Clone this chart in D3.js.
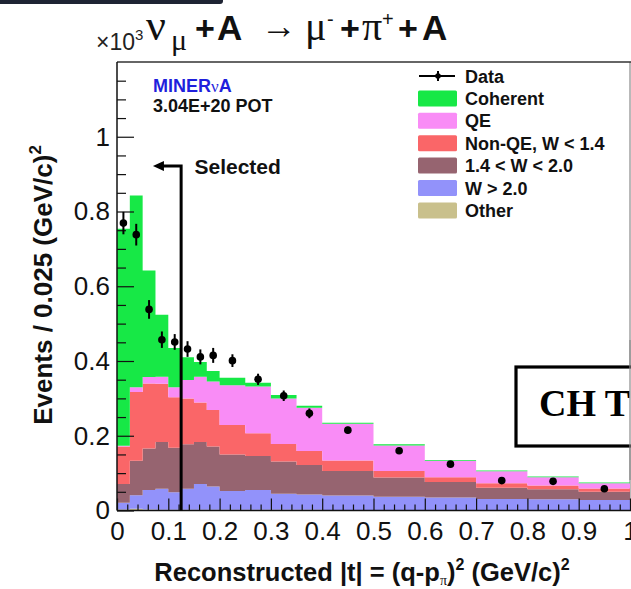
<!DOCTYPE html>
<html>
<head>
<meta charset="utf-8">
<script src="https://cdn.jsdelivr.net/npm/d3@7"></script>
<style>
  body { margin: 0; background: #fff; }
  svg { display: block; }
</style>
</head>
<body>
<div id="chart"></div>
<script>
// Reconstructed |t| bins (GeV/c)^2, variable width
const binEdges = [0, 0.025, 0.05, 0.075, 0.1, 0.125, 0.15, 0.175, 0.2, 0.25, 0.3, 0.35, 0.4, 0.5, 0.6, 0.7, 0.8, 0.9, 1.0];

// MC components, events / 0.025 (GeV/c)^2 in units of 10^3, bottom -> top of the stack
const other    = [0.003, 0.005, 0.003, 0.002, 0.002, 0.002, 0.002, 0.002, 0.002, 0.002, 0.002, 0.002, 0.001, 0.001, 0.001, 0.001, 0.001, 0.001];
const wAbove20 = [0.018, 0.036, 0.052, 0.056, 0.047, 0.056, 0.069, 0.062, 0.050, 0.053, 0.043, 0.041, 0.039, 0.036, 0.034, 0.030, 0.029, 0.027];
const w14to20  = [0.050, 0.092, 0.111, 0.125, 0.119, 0.119, 0.112, 0.107, 0.098, 0.091, 0.086, 0.079, 0.066, 0.051, 0.041, 0.030, 0.027, 0.022];
const nonQE    = [0.100, 0.184, 0.174, 0.156, 0.135, 0.123, 0.106, 0.098, 0.079, 0.061, 0.047, 0.037, 0.028, 0.018, 0.013, 0.012, 0.010, 0.009];
const qe       = [0.002, 0.013, 0.017, 0.019, 0.027, 0.049, 0.069, 0.076, 0.106, 0.125, 0.122, 0.116, 0.098, 0.068, 0.044, 0.032, 0.022, 0.014];
const coherent = [0.581, 0.513, 0.285, 0.166, 0.105, 0.061, 0.039, 0.028, 0.020, 0.010, 0.009, 0.005, 0.003, 0.003, 0.002, 0.002, 0.002, 0.002];

// Data points and statistical errors (10^3)
const dataCounts = [0.769, 0.738, 0.538, 0.457, 0.451, 0.432, 0.411, 0.415, 0.401, 0.351, 0.307, 0.260, 0.215, 0.160, 0.124, 0.080, 0.078, 0.058];
const dataErrors = [0.030, 0.029, 0.025, 0.022, 0.021, 0.021, 0.020, 0.020, 0.017, 0.015, 0.014, 0.013, 0.009, 0.007, 0.006, 0.005, 0.005, 0.004];

// Axes
const xTickValues = [0, 0.1, 0.2, 0.3, 0.4, 0.5, 0.6, 0.7, 0.8, 0.9, 1];
const xTickLabels = ["0", "0.1", "0.2", "0.3", "0.4", "0.5", "0.6", "0.7", "0.8", "0.9", "1"];
const yTickValues = [0, 0.2, 0.4, 0.6, 0.8, 1];
const yTickLabels = ["0", "0.2", "0.4", "0.6", "0.8", "1"];

// Legend
const componentKeys = ["other", "wAbove20", "w14to20", "nonQE", "qe", "coherent"];
const componentColors = ["#c9c08c", "#9292fa", "#966470", "#fa6668", "#f98cf6", "#17e846"];
const legendLabels = ["Data", "Coherent", "QE", "Non-QE, W < 1.4", "1.4 < W < 2.0", "W > 2.0", "Other"];
const legendKeys = ["data", "coherent", "qe", "nonQE", "w14to20", "wAbove20", "other"];

// Selection cut annotation
const selectedCut = 0.125;
const arrowTopValue = 0.922;
const arrowTipT = 0.07;

const W = 631, H = 589;
const frame = { left: 117, right: 630, top: 62, bottom: 510.5 };

const x = d3.scaleLinear().domain([0, 1]).range([frame.left, frame.right]);
const y = d3.scaleLinear().domain([0, 1.2]).range([frame.bottom, frame.top]);
const color = d3.scaleOrdinal().domain(componentKeys).range(componentColors);

const svg = d3.select("#chart").append("svg")
  .attr("width", W)
  .attr("height", H)
  .attr("viewBox", [0, 0, W, H])
  .style("font-family", "'Liberation Sans', Arial, Helvetica, sans-serif");

svg.append("rect").attr("width", W).attr("height", H).attr("fill", "#fff");

// leftover dark bar at the very top (cropped from the slide)
svg.append("rect")
  .attr("x", -6).attr("y", -4).attr("width", 229).attr("height", 8)
  .attr("rx", 3).attr("fill", "#1e2433");

// right frame edge (grey, partly covered)
svg.append("line")
  .attr("x1", frame.right).attr("x2", frame.right)
  .attr("y1", frame.top).attr("y2", frame.bottom)
  .attr("stroke", "#8a8a8a").attr("stroke-width", 1.2);

// Stack the MC components
const rows = binEdges.slice(0, -1).map((e, i) => ({
  x0: e,
  x1: binEdges[i + 1],
  other: other[i],
  wAbove20: wAbove20[i],
  w14to20: w14to20[i],
  nonQE: nonQE[i],
  qe: qe[i],
  coherent: coherent[i],
}));

const stacked = d3.stack().keys(componentKeys)(rows);

const area = d3.area()
  .x((p) => x(p.t))
  .y0((p) => y(p.lo))
  .y1((p) => y(p.hi));

svg.append("g")
  .selectAll("path")
  .data(stacked)
  .join("path")
  .attr("fill", (s) => color(s.key))
  .attr("d", (s) =>
    area(s.flatMap((d) => [
      { t: d.data.x0, lo: d[0], hi: d[1] },
      { t: d.data.x1, lo: d[0], hi: d[1] },
    ]))
  );

// Frame lines
const frameG = svg.append("g").attr("stroke", "#111").attr("stroke-width", 1.5);
frameG.append("line").attr("x1", frame.left).attr("x2", frame.right + 1)
  .attr("y1", frame.top).attr("y2", frame.top).attr("stroke", "#333");
frameG.append("line").attr("x1", frame.left).attr("x2", frame.left)
  .attr("y1", frame.top).attr("y2", frame.bottom);
frameG.append("line").attr("x1", frame.left).attr("x2", frame.right + 1)
  .attr("y1", frame.bottom).attr("y2", frame.bottom);

// X axis: major ticks with labels, minor ticks
const xMinor = d3.range(0, 1.0001, 0.02).filter((v) => Math.abs(v * 10 - Math.round(v * 10)) > 1e-6);
svg.append("g")
  .attr("transform", `translate(0,${frame.bottom})`)
  .call(d3.axisBottom(x).tickValues(xMinor).tickSize(-6).tickFormat(""))
  .call((g) => g.select(".domain").remove())
  .call((g) => g.selectAll("line").attr("stroke", "#111").attr("stroke-width", 1.2));

svg.append("g")
  .attr("transform", `translate(0,${frame.bottom})`)
  .call(d3.axisBottom(x).tickValues(xTickValues).tickSize(-12).tickPadding(11)
    .tickFormat((d, i) => xTickLabels[i]))
  .call((g) => g.select(".domain").remove())
  .call((g) => g.selectAll("line").attr("stroke", "#111").attr("stroke-width", 1.2))
  .call((g) => g.selectAll("text").attr("fill", "#111").style("font-size", "26px")
    .style("font-family", "'Liberation Sans', Arial, sans-serif"));

// Y axis: major ticks with labels, minor ticks
const yMinor = d3.range(0, 1.2001, 0.05).filter((v) => Math.abs(v * 5 - Math.round(v * 5)) > 1e-6);
svg.append("g")
  .attr("transform", `translate(${frame.left},0)`)
  .call(d3.axisLeft(y).tickValues(yMinor).tickSize(-9).tickFormat(""))
  .call((g) => g.select(".domain").remove())
  .call((g) => g.selectAll("line").attr("stroke", "#111").attr("stroke-width", 1.2));

svg.append("g")
  .attr("transform", `translate(${frame.left},0)`)
  .call(d3.axisLeft(y).tickValues(yTickValues).tickSize(-17).tickPadding(7)
    .tickFormat((d, i) => yTickLabels[i]))
  .call((g) => g.select(".domain").remove())
  .call((g) => g.selectAll("line").attr("stroke", "#111").attr("stroke-width", 1.2))
  .call((g) => g.selectAll("text").attr("fill", "#111").style("font-size", "26px")
    .style("font-family", "'Liberation Sans', Arial, sans-serif"));

// x10^3 multiplier
const mult = svg.append("text").attr("x", 96).attr("y", 50)
  .attr("fill", "#222").style("font-size", "23px");
mult.append("tspan").text("×10");
mult.append("tspan").attr("dy", -10).style("font-size", "15px").text("3");

// Axis titles
const xTitle = svg.append("text")
  .attr("x", 362).attr("y", 581)
  .attr("text-anchor", "middle")
  .attr("fill", "#111")
  .style("font-size", "25.5px").style("font-weight", "bold");
xTitle.append("tspan").text("Reconstructed |t| = (q-p");
xTitle.append("tspan").attr("dy", 4).style("font-size", "14px").style("font-weight", "normal")
  .style("font-family", "'Liberation Serif', serif").text("π");
xTitle.append("tspan").attr("dy", -4).text(")");
xTitle.append("tspan").attr("dy", -11).style("font-size", "16px").text("2");
xTitle.append("tspan").attr("dy", 11).text(" (GeV/c)");
xTitle.append("tspan").attr("dy", -11).style("font-size", "16px").text("2");

const yTitle = svg.append("text")
  .attr("transform", "translate(52,285) rotate(-90)")
  .attr("text-anchor", "middle")
  .attr("fill", "#111")
  .style("font-size", "26px").style("font-weight", "bold");
yTitle.append("tspan").text("Events / 0.025 (GeV/c)");
yTitle.append("tspan").attr("dy", -11).style("font-size", "17px").text("2");

// Title: nu_mu + A -> mu- + pi+ + A
const title = svg.append("text").attr("y", 40).attr("fill", "#111");
const greek = "'Liberation Serif', 'DejaVu Serif', serif";
title.append("tspan").attr("x", 146).style("font-family", greek).style("font-size", "44px").text("ν");
title.append("tspan").attr("x", 171).attr("dy", 10).style("font-family", greek).style("font-size", "30px").text("μ");
title.append("tspan").attr("x", 195).attr("dy", -10).style("font-size", "34px").style("font-weight", "bold").text("+");
title.append("tspan").attr("x", 217).style("font-size", "35px").style("font-weight", "bold").text("A");
title.append("tspan").attr("x", 261).attr("dy", -2).style("font-family", greek).style("font-size", "36px").text("→");
title.append("tspan").attr("x", 305).attr("dy", 2).style("font-family", greek).style("font-size", "40px").text("μ");
title.append("tspan").attr("x", 327).attr("dy", -14).style("font-size", "20px").text("-");
title.append("tspan").attr("x", 340).attr("dy", 14).style("font-size", "34px").style("font-weight", "bold").text("+");
title.append("tspan").attr("x", 362).style("font-family", greek).style("font-size", "40px").text("π");
title.append("tspan").attr("x", 382).attr("dy", -14).style("font-size", "20px").text("+");
title.append("tspan").attr("x", 398).attr("dy", 14).style("font-size", "34px").style("font-weight", "bold").text("+");
title.append("tspan").attr("x", 422).style("font-size", "35px").style("font-weight", "bold").text("A");

// MINERvA label
const minerva = svg.append("text").attr("x", 153).attr("y", 92)
  .attr("fill", "#1f1fdc").style("font-size", "18px").style("font-weight", "bold");
minerva.append("tspan").text("MINER");
minerva.append("tspan").style("font-family", greek).style("font-weight", "normal").style("font-size", "17px").text("ν");
minerva.append("tspan").text("A");

svg.append("text").attr("x", 153).attr("y", 112)
  .attr("fill", "#111").style("font-size", "18px").style("font-weight", "bold")
  .text("3.04E+20 POT");

// Data points with error bars
const points = dataCounts.map((v, i) => ({
  t: (binEdges[i] + binEdges[i + 1]) / 2,
  v,
  e: dataErrors[i],
}));

svg.append("g")
  .selectAll("line")
  .data(points)
  .join("line")
  .attr("x1", (d) => x(d.t)).attr("x2", (d) => x(d.t))
  .attr("y1", (d) => y(d.v - d.e)).attr("y2", (d) => y(d.v + d.e))
  .attr("stroke", "#000").attr("stroke-width", 2);

svg.append("g")
  .selectAll("circle")
  .data(points)
  .join("circle")
  .attr("cx", (d) => x(d.t))
  .attr("cy", (d) => y(d.v))
  .attr("r", 3.8)
  .attr("fill", "#000");

// Selected arrow
const arrowG = svg.append("g").attr("stroke", "#000").attr("stroke-width", 3).attr("fill", "none");
arrowG.append("path")
  .attr("d", `M${x(selectedCut)},${y(0)} V${y(arrowTopValue)} H${x(arrowTipT) + 8}`);
svg.append("path")
  .attr("d", `M${x(arrowTipT)},${y(arrowTopValue)} l11,-5 v10 z`)
  .attr("fill", "#000");
svg.append("text")
  .attr("x", x(0.151)).attr("y", y(arrowTopValue) + 8)
  .attr("fill", "#111").style("font-size", "21px").style("font-weight", "bold")
  .text("Selected");

// Legend
const legend = svg.append("g").attr("transform", "translate(418,76)");
legendKeys.forEach((key, i) => {
  const row = legend.append("g").attr("transform", `translate(0,${i * 22.4})`);
  if (key === "data") {
    row.append("line").attr("x1", 1).attr("x2", 37).attr("y1", 0).attr("y2", 0)
      .attr("stroke", "#000").attr("stroke-width", 2);
    row.append("line").attr("x1", 20).attr("x2", 20).attr("y1", -5).attr("y2", 5)
      .attr("stroke", "#000").attr("stroke-width", 2);
    row.append("circle").attr("cx", 20).attr("cy", 0).attr("r", 2.8).attr("fill", "#000");
  } else {
    row.append("rect").attr("x", 0).attr("y", -8).attr("width", 39).attr("height", 16)
      .attr("rx", 1.5).attr("fill", color(key));
  }
  row.append("text").attr("x", 47).attr("y", 6.5)
    .attr("fill", "#111").style("font-size", "18px").style("font-weight", "bold")
    .text(legendLabels[i]);
});

// CH target box (cut off at the right edge)
svg.append("rect")
  .attr("x", 516).attr("y", 367).attr("width", 140).attr("height", 79)
  .attr("fill", "#fff").attr("stroke", "#000").attr("stroke-width", 3.2);
svg.append("text")
  .attr("x", 539).attr("y", 416)
  .attr("fill", "#000")
  .style("font-family", "'Liberation Serif', 'Times New Roman', serif")
  .style("font-size", "38px").style("font-weight", "bold")
  .text("CH T");
svg.append("line")
  .attr("x1", frame.right).attr("x2", frame.right)
  .attr("y1", 340).attr("y2", 480)
  .attr("stroke", "#8a8a8a").attr("stroke-width", 1.2);
</script>
</body>
</html>
